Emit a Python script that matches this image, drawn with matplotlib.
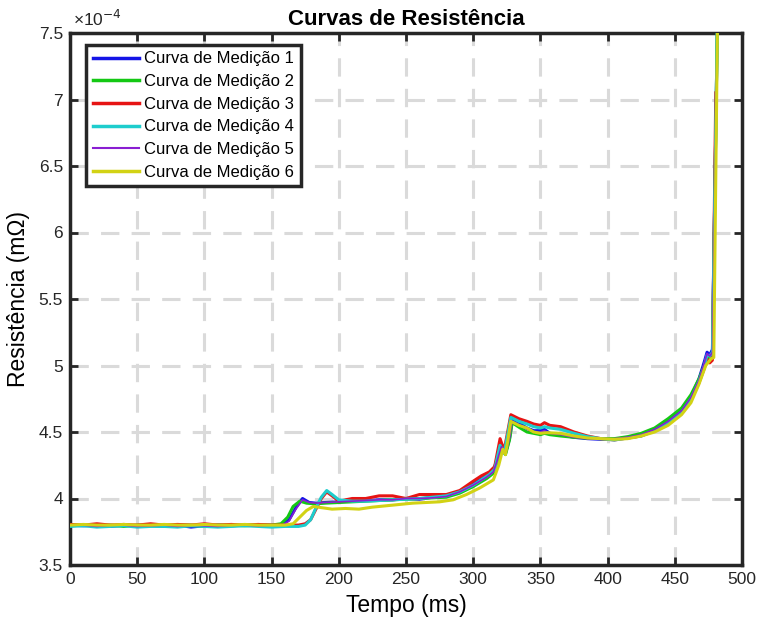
import numpy as np
import matplotlib
matplotlib.use("Agg")
import matplotlib.pyplot as plt
from matplotlib.ticker import FuncFormatter, MultipleLocator

plt.rcParams['font.family'] = ['Liberation Sans', 'DejaVu Sans']

# resistance curves, values in units of 1e-4 mOhm, time in ms
t1 = [0, 10, 20, 30, 40, 50, 60, 70, 80, 90, 100, 110, 120, 130, 140, 150, 158, 163, 168, 173,
      178, 183, 190, 200, 210, 220, 230, 240, 250, 260, 270, 280, 290, 300, 305, 310, 315, 318,
      321, 324, 327, 329, 335, 340, 345, 350, 353, 357, 365, 375, 385, 395, 405, 415, 425, 435,
      445, 455, 462, 468, 472, 474, 476, 478, 482]
r1 = [3.80, 3.795, 3.80, 3.79, 3.80, 3.795, 3.80, 3.79, 3.80, 3.785, 3.795, 3.80, 3.795, 3.80,
      3.80, 3.80, 3.805, 3.84, 3.93, 4.00, 3.97, 3.965, 3.97, 3.975, 3.98, 3.985, 3.99, 3.99,
      4.00, 3.995, 4.01, 4.02, 4.05, 4.11, 4.14, 4.17, 4.21, 4.30, 4.40, 4.34, 4.45, 4.59, 4.56,
      4.53, 4.51, 4.51, 4.52, 4.49, 4.48, 4.46, 4.45, 4.445, 4.445, 4.46, 4.48, 4.52, 4.58, 4.66,
      4.76, 4.90, 5.03, 5.10, 5.08, 5.12, 7.8]

t2 = [0, 10, 20, 30, 40, 50, 60, 70, 80, 90, 100, 110, 120, 130, 140, 150, 157, 162, 166, 171,
      176, 182, 190, 200, 210, 220, 230, 240, 250, 260, 270, 280, 290, 300, 305, 310, 315, 318,
      321, 324, 327, 329, 335, 340, 345, 350, 353, 357, 365, 375, 385, 395, 405, 415, 425, 435,
      445, 455, 462, 468, 472, 474, 476, 478, 482]
r2 = [3.80, 3.80, 3.795, 3.80, 3.79, 3.80, 3.80, 3.795, 3.80, 3.80, 3.79, 3.80, 3.80, 3.795,
      3.80, 3.80, 3.81, 3.86, 3.94, 3.98, 3.965, 3.96, 3.965, 3.97, 3.975, 3.98, 3.985, 3.99,
      3.995, 4.00, 4.005, 4.01, 4.04, 4.09, 4.12, 4.15, 4.19, 4.28, 4.37, 4.33, 4.44, 4.57, 4.53,
      4.50, 4.49, 4.48, 4.49, 4.48, 4.47, 4.46, 4.455, 4.45, 4.45, 4.465, 4.49, 4.53, 4.60, 4.68,
      4.78, 4.90, 5.00, 5.06, 5.05, 5.08, 7.8]

t3 = [0, 10, 20, 30, 40, 50, 60, 70, 80, 90, 100, 110, 120, 130, 140, 150, 160, 170, 175, 179,
      183, 187, 191, 195, 200, 210, 220, 230, 240, 250, 260, 270, 280, 290, 300, 306, 312, 316,
      320, 323, 326, 328, 334, 340, 345, 350, 353, 357, 365, 375, 385, 395, 405, 415, 425, 435,
      445, 455, 462, 468, 472, 474, 476, 478, 480.5]
r3 = [3.805, 3.80, 3.81, 3.80, 3.805, 3.80, 3.81, 3.80, 3.805, 3.80, 3.81, 3.80, 3.805, 3.80,
      3.805, 3.80, 3.80, 3.80, 3.81, 3.84, 3.92, 4.00, 4.05, 4.02, 3.98, 4.00, 4.00, 4.02, 4.02,
      4.00, 4.03, 4.03, 4.03, 4.06, 4.13, 4.17, 4.20, 4.24, 4.45, 4.36, 4.52, 4.63, 4.60, 4.58,
      4.56, 4.55, 4.57, 4.55, 4.54, 4.50, 4.47, 4.45, 4.44, 4.455, 4.47, 4.51, 4.56, 4.64, 4.74,
      4.87, 4.98, 5.05, 5.02, 5.04, 7.05]

t4 = [0, 10, 20, 30, 40, 50, 60, 70, 80, 90, 100, 110, 120, 130, 140, 150, 160, 170, 175, 179,
      183, 187, 191, 195, 200, 210, 220, 230, 240, 250, 260, 270, 280, 290, 300, 306, 312, 316,
      320, 323, 326, 328, 334, 340, 345, 350, 353, 357, 365, 375, 385, 395, 405, 415, 425, 435,
      445, 455, 462, 468, 472, 474, 476, 478, 482]
r4 = [3.79, 3.795, 3.785, 3.79, 3.795, 3.785, 3.79, 3.79, 3.785, 3.795, 3.79, 3.785, 3.79,
      3.795, 3.79, 3.785, 3.79, 3.79, 3.80, 3.84, 3.93, 4.01, 4.06, 4.03, 3.99, 3.98, 3.98, 3.985,
      3.99, 3.995, 4.00, 4.01, 4.02, 4.05, 4.10, 4.14, 4.18, 4.22, 4.40, 4.34, 4.50, 4.61, 4.58,
      4.56, 4.54, 4.53, 4.54, 4.53, 4.52, 4.49, 4.465, 4.45, 4.44, 4.455, 4.47, 4.51, 4.57, 4.65,
      4.75, 4.88, 5.00, 5.08, 5.07, 5.10, 7.8]

t5 = [0, 10, 20, 30, 40, 50, 60, 70, 80, 90, 100, 110, 120, 130, 140, 150, 158, 163, 168, 173,
      178, 183, 190, 200, 210, 220, 230, 240, 250, 260, 270, 280, 290, 300, 305, 310, 315, 318,
      321, 324, 327, 329, 335, 340, 345, 350, 353, 357, 365, 375, 385, 395, 405, 415, 425, 435,
      445, 455, 462, 468, 472, 474, 476, 478, 482]
r5 = [3.80, 3.80, 3.79, 3.80, 3.80, 3.79, 3.795, 3.80, 3.79, 3.80, 3.795, 3.79, 3.80, 3.80,
      3.795, 3.80, 3.80, 3.83, 3.92, 3.99, 3.97, 3.965, 3.97, 3.975, 3.98, 3.985, 3.99, 3.99,
      4.00, 4.00, 4.005, 4.015, 4.05, 4.10, 4.13, 4.16, 4.20, 4.29, 4.39, 4.33, 4.45, 4.58, 4.55,
      4.52, 4.50, 4.50, 4.51, 4.49, 4.48, 4.46, 4.45, 4.445, 4.45, 4.46, 4.48, 4.52, 4.58, 4.66,
      4.76, 4.89, 5.02, 5.09, 5.07, 5.10, 7.8]

t6 = [0, 10, 20, 30, 40, 50, 60, 70, 80, 90, 100, 110, 120, 130, 140, 150, 160, 166, 171, 176,
      181, 188, 195, 205, 215, 225, 235, 245, 255, 265, 275, 285, 295, 305, 310, 315, 319, 322,
      324, 326, 328, 334, 340, 345, 350, 355, 365, 375, 385, 395, 405, 415, 425, 435, 445, 455,
      462, 468, 473, 477, 479, 482]
r6 = [3.80, 3.805, 3.80, 3.80, 3.805, 3.80, 3.80, 3.805, 3.80, 3.80, 3.805, 3.80, 3.80, 3.805,
      3.80, 3.80, 3.80, 3.81, 3.86, 3.91, 3.94, 3.93, 3.92, 3.925, 3.92, 3.935, 3.945, 3.955,
      3.965, 3.97, 3.975, 3.99, 4.03, 4.08, 4.11, 4.14, 4.25, 4.37, 4.33, 4.45, 4.58, 4.55, 4.53,
      4.50, 4.49, 4.495, 4.49, 4.47, 4.455, 4.45, 4.445, 4.45, 4.47, 4.50, 4.55, 4.63, 4.72, 4.86,
      5.00, 5.05, 5.06, 7.8]

series = [
    (t1, r1, '#1414e6', 2.2, 'Curva de Medição 1'),
    (t2, r2, '#14c814', 2.2, 'Curva de Medição 2'),
    (t3, r3, '#e61414', 2.2, 'Curva de Medição 3'),
    (t4, r4, '#1ecdcd', 2.2, 'Curva de Medição 4'),
    (t5, r5, '#8a1ed2', 1.2, 'Curva de Medição 5'),
    (t6, r6, '#d2d214', 2.2, 'Curva de Medição 6'),
]

fig = plt.figure(figsize=(7.63, 6.25), dpi=100)
ax = fig.add_axes([70/763, 60/625, 672/763, 532/625])

for t, r, c, lw, lab in series:
    ax.plot(t, r, color=c, lw=lw, label=lab, zorder=3)

ax.set_xlim(0, 500)
ax.set_ylim(3.5, 7.5)
ax.xaxis.set_major_locator(MultipleLocator(50))
ax.yaxis.set_major_locator(MultipleLocator(0.5))
ax.yaxis.set_major_formatter(FuncFormatter(lambda v, p: '%g' % v))

ax.grid(True, color='#dadada', lw=2.2, ls=(0, (6, 4)), zorder=0)
for s in ax.spines.values():
    s.set_linewidth(2.5)
    s.set_color('#262626')
ax.tick_params(direction='in', length=6, width=2, top=True, right=True,
               labelsize=12.5, colors='#262626', pad=5)

ax.set_xlabel('Tempo (ms)', fontsize=16.5, labelpad=5)
ax.set_ylabel('Resistência (mΩ)', fontsize=16.5, labelpad=6)
ax.set_title('Curvas de Resistência', fontsize=16, fontweight='bold', pad=6)
ax.text(0.005, 1.008, '×10$^{-4}$', transform=ax.transAxes, fontsize=12.5,
        ha='left', va='bottom', color='#262626')

leg = ax.legend(loc='upper left', bbox_to_anchor=(0.024, 0.978), borderaxespad=0,
                fontsize=12, handlelength=2.8, handletextpad=0.3, labelspacing=0.46,
                borderpad=0.4, fancybox=False, framealpha=1, edgecolor='#262626')
leg.get_frame().set_linewidth(2.5)
for h in leg.get_lines():
    h.set_linewidth(2.5)
leg.get_lines()[4].set_linewidth(1.5)

fig.savefig('out.png', dpi=100)
